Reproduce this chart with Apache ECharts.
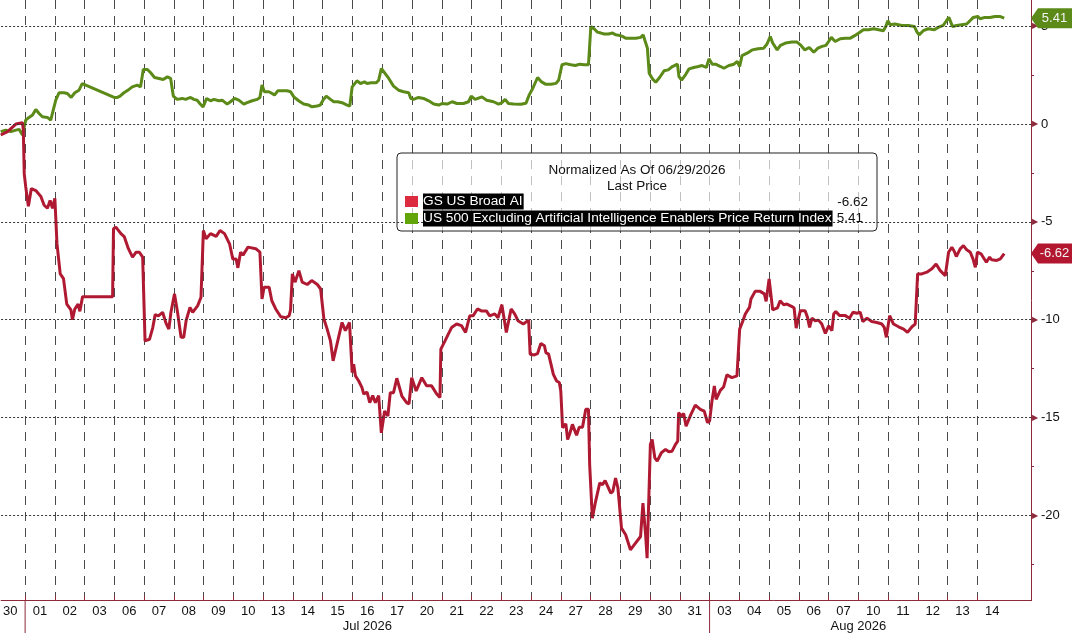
<!DOCTYPE html>
<html>
<head>
<meta charset="utf-8">
<title>GS US Broad AI vs US 500 ex AI Enablers</title>
<script src="https://cdn.jsdelivr.net/npm/echarts@6.0.0/dist/echarts.min.js"></script>
<style>
  html, body { margin: 0; padding: 0; background: #fff; }
  #chart { width: 1074px; height: 633px; }
</style>
</head>
<body>
<div id="chart"></div>
<script>
/* trading days on the axis (index 0 = Jun 30) */
const days = ['30', '01', '02', '03', '06', '07', '08', '09', '10', '13', '14', '15', '16', '17', '20', '21', '22', '23',
  '24', '27', '28', '29', '30', '31', '03', '04', '05', '06', '07', '10', '11', '12', '13', '14'];
const months = ['Jul 2026', 'Aug 2026'];
const monthStart = [1, 24];   // index of the first day of each month

/* right axis */
const yLabels = [-20, -15, -10, -5, 0, 5];
const yMinorTicks = [-22.5, -17.5, -12.5, -7.5, -2.5, 2.5];

/* [trading day position, normalized value] */
const aiSeries = [
  [0.18, -0.56], [0.41, -0.39], [0.69, 0.0], [0.91, 0.07], [0.94, -0.3], [0.97, -2.53], [1.02, -3.2], [1.11, -4.2],
  [1.21, -3.3], [1.36, -3.4], [1.53, -3.7], [1.64, -4.15], [1.75, -4.3], [1.84, -3.9], [1.92, -4.3], [2.0, -3.8],
  [2.07, -6.1], [2.18, -7.66], [2.29, -7.9], [2.40, -9.2], [2.54, -9.5], [2.59, -10.0], [2.67, -9.45], [2.78, -9.2],
  [2.84, -9.57], [2.93, -8.82], [3.94, -8.82], [3.97, -5.35], [4.05, -5.27], [4.22, -5.6], [4.33, -5.75], [4.47, -6.37],
  [4.61, -6.8], [4.73, -6.55], [4.84, -6.55], [4.95, -6.8], [5.03, -11.08], [5.18, -11.0], [5.29, -10.4], [5.37, -9.74],
  [5.48, -9.8], [5.62, -9.62], [5.74, -10.2], [5.83, -10.48], [5.90, -9.62], [6.02, -8.68], [6.13, -9.7], [6.24, -10.9],
  [6.33, -10.9], [6.41, -10.05], [6.54, -9.37], [6.63, -9.62], [6.80, -9.28], [6.91, -8.85], [6.99, -5.44], [7.08, -5.86],
  [7.23, -5.6], [7.42, -5.74], [7.55, -5.44], [7.70, -5.6], [7.87, -6.12], [7.98, -6.9], [8.09, -6.9], [8.15, -7.35],
  [8.24, -6.55], [8.32, -6.7], [8.49, -6.29], [8.75, -6.37], [8.89, -6.55], [8.96, -8.94], [9.03, -8.34], [9.20, -8.34],
  [9.29, -9.03], [9.42, -9.45], [9.59, -9.85], [9.76, -9.9], [9.87, -9.8], [9.92, -9.5], [9.98, -7.66], [10.07, -8.08],
  [10.20, -7.49], [10.31, -8.08], [10.48, -8.2], [10.63, -8.0], [10.82, -8.2], [10.93, -8.43], [11.04, -9.96], [11.15, -10.48],
  [11.26, -11.08], [11.35, -12.1], [11.48, -11.25], [11.65, -10.14], [11.76, -10.56], [11.90, -10.14], [11.99, -12.7], [12.04, -12.27],
  [12.10, -12.87], [12.21, -13.13], [12.32, -13.47], [12.38, -13.8], [12.49, -13.7], [12.58, -14.24], [12.68, -13.88], [12.77, -14.24],
  [12.88, -13.88], [12.97, -15.78], [13.08, -14.67], [13.19, -14.92], [13.27, -13.73], [13.38, -13.73], [13.49, -12.99], [13.66, -13.9],
  [13.82, -14.24], [13.90, -14.3], [13.99, -12.96], [14.14, -13.64], [14.33, -12.96], [14.49, -13.38], [14.66, -13.38], [14.83, -13.8],
  [14.94, -13.98], [14.97, -11.5], [15.11, -11.08], [15.22, -10.74], [15.33, -10.4], [15.50, -10.22], [15.66, -10.3], [15.80, -10.65],
  [15.94, -9.8], [16.05, -9.8], [16.20, -9.45], [16.33, -9.55], [16.50, -9.55], [16.61, -9.8], [16.78, -9.7], [16.89, -9.9],
  [17.02, -9.23], [17.17, -10.65], [17.33, -9.45], [17.45, -9.7], [17.56, -10.05], [17.74, -10.22], [17.92, -10.02], [17.97, -11.76],
  [18.11, -11.8], [18.22, -11.73], [18.33, -11.21], [18.45, -11.33], [18.50, -11.68], [18.59, -11.76], [18.67, -12.27], [18.75, -12.79],
  [18.86, -13.13], [18.95, -13.21], [19.00, -13.64], [19.06, -15.52], [19.17, -15.32], [19.23, -16.12], [19.30, -15.83], [19.39, -15.35],
  [19.53, -15.9], [19.62, -15.49], [19.73, -15.49], [19.84, -14.58], [19.93, -14.58], [19.97, -17.4], [20.06, -20.14], [20.17, -19.28],
  [20.31, -18.34], [20.40, -18.43], [20.49, -18.22], [20.68, -18.86], [20.75, -18.77], [20.84, -18.09], [20.92, -18.6], [21.04, -20.65],
  [21.18, -20.99], [21.34, -21.76], [21.51, -21.42], [21.68, -21.08], [21.76, -19.37], [21.85, -20.99], [21.90, -22.19], [21.96, -22.19],
  [22.01, -16.38], [22.07, -16.12], [22.16, -17.06], [22.24, -17.23], [22.38, -16.8], [22.52, -16.63], [22.63, -16.75], [22.74, -16.72],
  [22.85, -16.38], [22.93, -16.2], [22.96, -14.75], [23.05, -14.92], [23.13, -14.8], [23.21, -15.44], [23.35, -14.92], [23.52, -14.36],
  [23.69, -14.58], [23.82, -14.67], [23.93, -15.26], [24.00, -15.18], [24.08, -14.16], [24.16, -13.38], [24.22, -14.07], [24.36, -13.61],
  [24.47, -13.44], [24.58, -12.82], [24.75, -12.96], [24.92, -12.87], [25.01, -10.48], [25.12, -10.05], [25.20, -9.71], [25.34, -9.37],
  [25.39, -8.94], [25.53, -8.55], [25.70, -8.55], [25.84, -8.68], [25.90, -9.06], [26.00, -7.92], [26.12, -9.5], [26.28, -9.4],
  [26.37, -9.03], [26.49, -9.23], [26.60, -9.2], [26.77, -9.33], [26.84, -9.4], [26.91, -10.43], [27.05, -9.54], [27.21, -9.54],
  [27.29, -9.88], [27.36, -10.39], [27.44, -9.92], [27.55, -10.05], [27.66, -10.02], [27.77, -10.22], [27.89, -10.7], [28.00, -10.31],
  [28.11, -10.56], [28.17, -9.71], [28.24, -9.58], [28.37, -9.79], [28.56, -9.79], [28.70, -9.92], [28.82, -9.62], [28.95, -9.67],
  [29.06, -9.62], [29.15, -10.09], [29.29, -9.92], [29.45, -10.09], [29.62, -10.14], [29.79, -10.22], [29.87, -10.39], [29.94, -10.9],
  [30.05, -9.79], [30.18, -10.22], [30.35, -10.36], [30.52, -10.48], [30.65, -10.65], [30.80, -10.36], [30.91, -10.22], [30.99, -7.66],
  [31.13, -7.66], [31.30, -7.57], [31.47, -7.4], [31.61, -7.15], [31.75, -7.49], [31.92, -7.75], [32.03, -6.55], [32.14, -6.3],
  [32.22, -6.5], [32.29, -6.77], [32.42, -6.38], [32.53, -6.21], [32.64, -6.43], [32.76, -6.55], [32.85, -6.89], [32.93, -7.32],
  [33.00, -6.55], [33.12, -6.63], [33.18, -6.67], [33.30, -7.06], [33.41, -6.8], [33.48, -6.94], [33.65, -6.97], [33.77, -6.89],
  [33.90, -6.62]
];

const exAiSeries = [
  [0.18, -0.39], [0.35, -0.31], [0.52, -0.39], [0.69, -0.31], [0.80, -0.27], [0.91, -0.56], [0.97, -0.65], [1.02, 0.2],
  [1.13, 0.34], [1.25, 0.46], [1.36, 0.75], [1.47, 0.54], [1.58, 0.37], [1.75, 0.34], [1.86, 0.2], [1.92, 0.29],
  [2.03, 1.22], [2.14, 1.6], [2.31, 1.6], [2.42, 1.56], [2.55, 1.36], [2.67, 1.6], [2.81, 1.73], [2.92, 2.07],
  [3.99, 1.36], [4.10, 1.36], [4.19, 1.43], [4.32, 1.6], [4.49, 1.77], [4.60, 1.9], [4.77, 1.99], [4.88, 1.9],
  [4.97, 2.79], [5.11, 2.79], [5.22, 2.62], [5.35, 2.38], [5.50, 2.33], [5.64, 2.28], [5.78, 2.41], [5.89, 2.33],
  [5.98, 1.43], [6.11, 1.26], [6.28, 1.31], [6.39, 1.26], [6.56, 1.36], [6.67, 1.26], [6.78, 1.22], [6.87, 1.05],
  [6.98, 0.88], [7.10, 1.31], [7.23, 1.19], [7.34, 1.26], [7.51, 1.19], [7.62, 1.22], [7.79, 1.02], [7.90, 1.14],
  [8.04, 1.31], [8.18, 1.22], [8.35, 1.02], [8.46, 1.09], [8.63, 1.19], [8.80, 1.26], [8.89, 1.36], [8.96, 1.99],
  [9.04, 1.65], [9.19, 1.65], [9.30, 1.56], [9.38, 1.48], [9.49, 1.7], [9.64, 1.7], [9.80, 1.7], [9.92, 1.65],
  [10.03, 1.39], [10.19, 1.19], [10.36, 1.02], [10.53, 0.97], [10.64, 0.88], [10.81, 0.92], [10.92, 0.97], [11.01, 1.22],
  [11.12, 1.43], [11.26, 1.26], [11.37, 1.14], [11.50, 1.14], [11.65, 1.09], [11.82, 0.97], [11.91, 0.92], [11.99, 1.9],
  [12.15, 2.21], [12.27, 2.07], [12.40, 2.16], [12.49, 2.07], [12.62, 2.11], [12.80, 2.11], [12.88, 2.24], [12.97, 2.84],
  [13.10, 2.58], [13.22, 2.33], [13.38, 1.94], [13.55, 1.73], [13.72, 1.65], [13.89, 1.6], [13.96, 1.31], [14.05, 1.26],
  [14.22, 1.36], [14.39, 1.31], [14.56, 1.19], [14.73, 1.02], [14.90, 0.97], [15.01, 1.05], [15.18, 1.02], [15.35, 1.14],
  [15.51, 1.05], [15.73, 1.05], [15.90, 1.14], [15.99, 1.43], [16.12, 1.26], [16.35, 1.39], [16.51, 1.22], [16.74, 1.14],
  [16.91, 1.02], [17.02, 1.09], [17.13, 1.26], [17.24, 1.05], [17.41, 1.02], [17.66, 1.01], [17.83, 1.06], [17.94, 1.49],
  [18.06, 1.83], [18.22, 2.38], [18.34, 2.17], [18.50, 2.03], [18.67, 2.03], [18.84, 2.08], [18.93, 2.25], [19.04, 3.03],
  [19.17, 3.09], [19.34, 3.03], [19.49, 2.99], [19.64, 3.06], [19.79, 3.03], [19.93, 3.03], [20.01, 4.99], [20.12, 4.87],
  [20.23, 4.7], [20.35, 4.65], [20.46, 4.6], [20.60, 4.6], [20.74, 4.65], [20.85, 4.56], [20.98, 4.53], [21.07, 4.48],
  [21.18, 4.39], [21.35, 4.39], [21.52, 4.39], [21.69, 4.43], [21.77, 4.56], [21.83, 4.26], [21.91, 3.88], [21.97, 2.6],
  [22.08, 2.31], [22.19, 2.14], [22.32, 2.38], [22.47, 2.72], [22.61, 2.77], [22.75, 2.94], [22.92, 3.06], [22.97, 2.43],
  [23.06, 2.25], [23.20, 2.54], [23.31, 2.82], [23.47, 2.89], [23.62, 2.94], [23.75, 2.99], [23.89, 2.89], [23.98, 3.33],
  [24.09, 3.06], [24.20, 3.06], [24.37, 2.94], [24.48, 2.85], [24.65, 2.99], [24.82, 3.06], [24.93, 3.2], [25.01, 2.94],
  [25.09, 3.5], [25.26, 3.62], [25.43, 3.79], [25.63, 3.85], [25.82, 3.88], [25.93, 4.09], [26.04, 4.48], [26.12, 4.14],
  [26.27, 3.79], [26.38, 4.02], [26.55, 4.14], [26.77, 4.19], [26.94, 4.19], [27.05, 4.05], [27.20, 3.79], [27.35, 3.91],
  [27.50, 3.67], [27.64, 3.88], [27.78, 3.97], [27.91, 4.02], [28.00, 4.22], [28.09, 4.43], [28.22, 4.22], [28.39, 4.36],
  [28.56, 4.39], [28.73, 4.39], [28.89, 4.53], [29.01, 4.65], [29.17, 4.82], [29.34, 4.82], [29.51, 4.87], [29.68, 4.82],
  [29.84, 4.77], [29.92, 4.99], [29.99, 5.28], [30.07, 5.08], [30.23, 5.11], [30.46, 5.04], [30.68, 5.04], [30.88, 4.99],
  [30.96, 4.73], [31.04, 4.56], [31.18, 4.77], [31.35, 4.87], [31.55, 4.82], [31.68, 4.94], [31.85, 5.04], [31.96, 5.28],
  [32.04, 5.45], [32.16, 4.99], [32.30, 5.04], [32.47, 5.08], [32.64, 5.11], [32.75, 5.28], [32.86, 5.45], [33.01, 5.5],
  [33.09, 5.38], [33.25, 5.45], [33.42, 5.45], [33.59, 5.5], [33.75, 5.5], [33.90, 5.41]
];

const AI_NAME = 'GS US Broad AI';
const EX_NAME = 'US 500 Excluding Artificial Intelligence Enablers Price Return Index';
const AXIS = '#8c2a3c';
const FONT = '"Liberation Sans", Arial, sans-serif';
const X_MIN = 0.194, X_MAX = 34.8;

/* day boundaries and day centres */
let dayBounds = [], dayCenters = [];
for (let i = 0; i < days.length; i++) {
  dayCenters.push(i + 0.5);
  if (i > 0) dayBounds.push(i);
}

function last(arr) { return arr[arr.length - 1][1]; }

/* price tag on the right axis */
function tag(value, color) {
  return {
    symbol: 'path://M0,10L7,0L41,0L41,20L7,20Z',
    symbolSize: [41, 20],
    symbolOffset: [20.5, 0],
    symbolKeepAspect: false,
    silent: true,
    itemStyle: { color: color },
    label: {
      show: true, position: 'inside', offset: [3, 0],
      color: '#f4f4f4', fontSize: 13, fontFamily: FONT,
      formatter: value.toFixed(2)
    },
    data: [{ coord: [X_MAX, value] }]
  };
}

const chart = echarts.init(document.getElementById('chart'));

chart.setOption({
  animation: false,
  backgroundColor: '#fff',
  textStyle: { fontFamily: FONT },
  grid: { left: 0, right: 43, top: 0, bottom: 32.3 },
  legend: {
    orient: 'vertical',
    left: 405, top: 193.5,
    padding: 0,
    itemWidth: 13, itemHeight: 11, itemGap: 1,
    icon: 'rect',
    selectedMode: false,
    z: 10,
    textStyle: {
      color: '#fff', backgroundColor: '#000', fontSize: 13.7, fontFamily: FONT,
      lineHeight: 15, padding: [1, 1, 0, 0]
    },
    data: [
      { name: AI_NAME, itemStyle: { color: '#dc2a3e' } },
      { name: EX_NAME, itemStyle: { color: '#62a50a' } }
    ]
  },
  xAxis: {
    type: 'value',
    min: X_MIN, max: X_MAX,
    axisLine: { show: true, onZero: false, lineStyle: { color: AXIS, width: 1 } },
    axisTick: { show: true, inside: true, length: 5, customValues: dayBounds, lineStyle: { color: AXIS } },
    axisLabel: {
      customValues: dayCenters, margin: 4, color: '#111', fontSize: 13, fontFamily: FONT,
      formatter: v => days[Math.floor(v)]
    },
    splitLine: { show: true, lineStyle: { color: '#4a4a4a', width: 1, type: [9, 7] } }
  },
  yAxis: {
    type: 'value',
    position: 'right',
    min: -24.36, max: 6.34,
    axisLine: { show: true, lineStyle: { color: AXIS, width: 1 } },
    axisTick: { show: true, length: 3, customValues: yMinorTicks, lineStyle: { color: AXIS } },
    axisLabel: {
      customValues: yLabels, margin: 1,
      formatter: v => '{t|\u25B6}{v|' + v + '}',
      rich: {
        t: { color: AXIS, fontSize: 8, padding: [0, 3, 0, 0] },
        v: { color: '#111', fontSize: 13, fontFamily: FONT }
      }
    },
    splitLine: { show: false }
  },
  series: [
    {
      // horizontal dotted grid at the labelled levels
      type: 'line', name: 'grid', data: [], z: 1, silent: true,
      markLine: {
        silent: true, symbol: ['none', 'none'], label: { show: false },
        lineStyle: { color: '#333', width: 1, type: [2, 2] },
        data: yLabels.map(v => ({ yAxis: v }))
      }
    },
    {
      type: 'line', name: EX_NAME, data: exAiSeries, z: 3,
      showSymbol: false, symbol: 'none',
      lineStyle: { color: '#5b8a18', width: 3 },
      itemStyle: { color: '#5b8a18' },
      markPoint: tag(last(exAiSeries), '#5b8a18')
    },
    {
      type: 'line', name: AI_NAME, data: aiSeries, z: 3,
      showSymbol: false, symbol: 'none',
      lineStyle: { color: '#af1a32', width: 3 },
      itemStyle: { color: '#af1a32' },
      markPoint: tag(last(aiSeries), '#b3172f')
    }
  ]
});

/* legend box, titles, month labels and month separators */
const axisY = 633 - 32.3;
const px = v => chart.convertToPixel({ xAxisIndex: 0 }, v);
const TEXT_FONT = '13.5px ' + FONT;
let graphic = [
  {
    type: 'rect', z: 4, silent: true,
    shape: { x: 397, y: 153, width: 480, height: 78, r: 4 },
    style: { fill: 'rgba(255,255,255,0.65)', stroke: '#222', lineWidth: 1 }
  },
  {
    type: 'text', z: 10, silent: true, x: 637, y: 170.5,
    style: { text: 'Normalized As Of 06/29/2026', fill: '#111', font: TEXT_FONT, align: 'center', verticalAlign: 'middle' }
  },
  {
    type: 'text', z: 10, silent: true, x: 637, y: 186,
    style: { text: 'Last Price', fill: '#111', font: TEXT_FONT, align: 'center', verticalAlign: 'middle' }
  },
  {
    type: 'text', z: 10, silent: true, x: 868, y: 202,
    style: { text: last(aiSeries).toFixed(2), fill: '#111', font: TEXT_FONT, align: 'right', verticalAlign: 'middle' }
  },
  {
    type: 'text', z: 10, silent: true, x: 863, y: 218,
    style: { text: last(exAiSeries).toFixed(2), fill: '#111', font: TEXT_FONT, align: 'right', verticalAlign: 'middle' }
  }
];
months.forEach((m, i) => {
  let start = monthStart[i];
  let end = i + 1 < months.length ? monthStart[i + 1] : days.length;
  graphic.push({
    type: 'line', silent: true, z: 5,
    shape: { x1: px(start), y1: axisY, x2: px(start), y2: 633 },
    style: { stroke: AXIS, lineWidth: 1 }
  });
  graphic.push({
    type: 'text', silent: true, z: 5, x: px((start + end) / 2), y: 626,
    style: { text: m, fill: '#111', font: '13px ' + FONT, align: 'center', verticalAlign: 'middle' }
  });
});
chart.setOption({ graphic: graphic });
</script>
</body>
</html>
